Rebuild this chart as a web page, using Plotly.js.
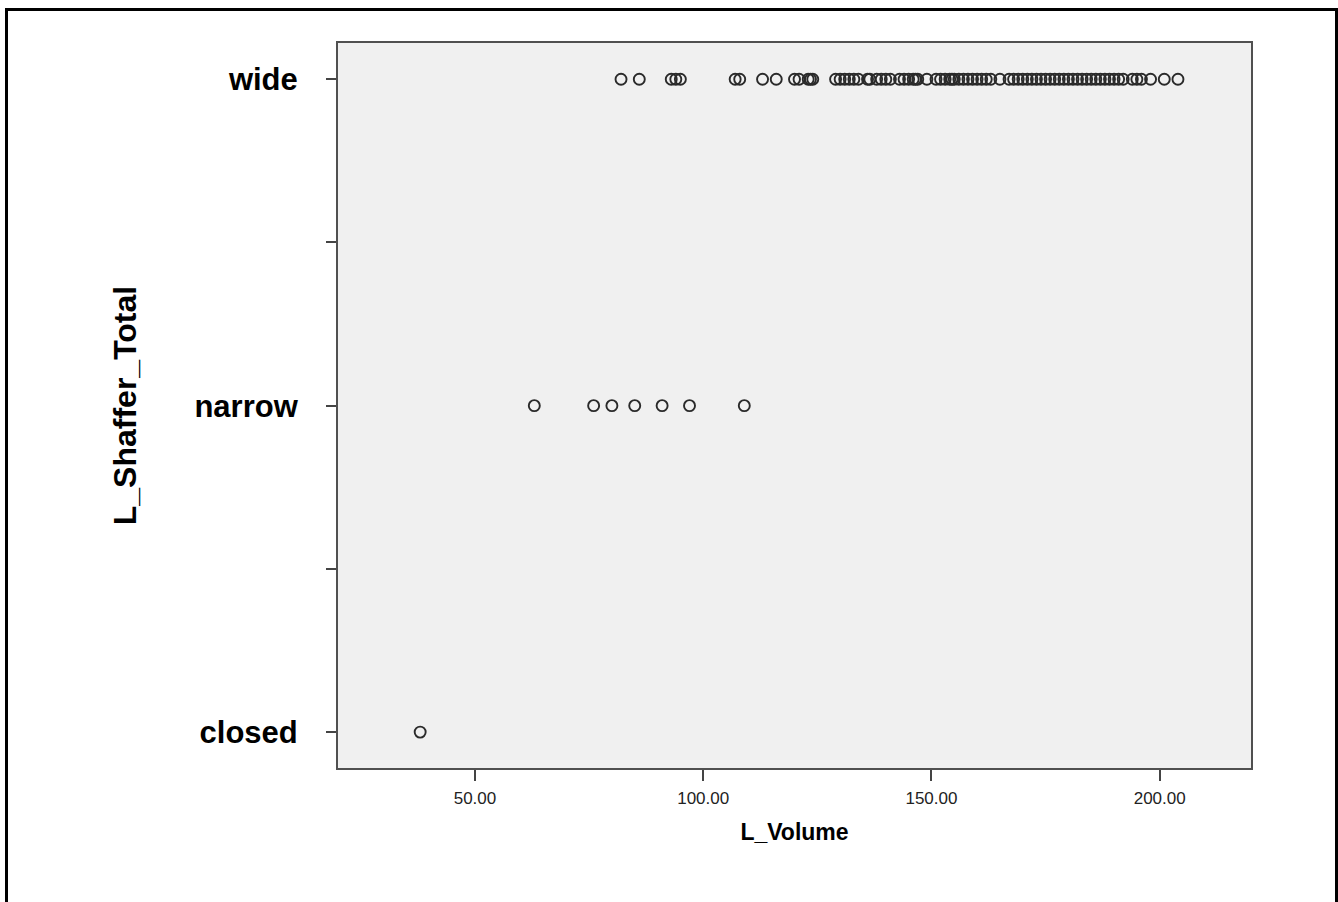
<!DOCTYPE html>
<html>
<head>
<meta charset="utf-8">
<script src="https://cdn.plot.ly/plotly-3.0.1.min.js"></script>
<style>
  html, body { margin: 0; padding: 0; background: #fff; }
  #wrap { position: relative; width: 1338px; height: 902px; overflow: hidden; }
  #chart { position: absolute; left: 0; top: 0; width: 1338px; height: 902px; }
  #frame { position: absolute; left: 5px; top: 8px; width: 1333px; height: 1000px;
           border: 3px solid #000; box-sizing: border-box; pointer-events: none; }
</style>
</head>
<body>
<div id="wrap">
  <div id="chart"></div>
  <div id="frame"></div>
</div>
<script>
// Category codes on the y axis
const categories = ["closed", "narrow", "wide"];
const categoryCodes = [0, 1, 2];

// L_Volume values per category
const closedVolumes = [38];
const narrowVolumes = [63, 76, 80, 85, 91, 97, 109];
const wideVolumes = [82, 86, 93, 94, 95, 107, 108, 113, 116, 120, 121, 123, 123.5, 124,
  129, 130, 131, 132, 133, 134, 136, 136.5, 138, 139, 140, 141, 143, 144, 145, 146, 146.5,
  147, 149, 151, 152, 153, 154, 154.5, 155, 156, 157, 158, 159, 160, 161, 162, 163, 165,
  167, 168, 169, 170, 171, 172, 173, 174, 175, 176, 177, 178, 179, 180, 181, 182, 183,
  184, 185, 186, 187, 188, 189, 190, 191, 192, 194, 195, 196, 198, 201, 204];

// Tick labels
const yTickVals = [0, 0.5, 1, 1.5, 2];
const yTickText = ["closed", "", "narrow", "", "wide"];
const xTickVals = [50, 100, 150, 200];
const xTickText = ["50.00", "100.00", "150.00", "200.00"];

const groups = [closedVolumes, narrowVolumes, wideVolumes];
const xs = [], ys = [];
groups.forEach((g, i) => g.forEach(v => { xs.push(v); ys.push(categoryCodes[i]); }));

const trace = {
  type: "scatter",
  mode: "markers",
  x: xs,
  y: ys,
  marker: { symbol: "circle-open", size: 11, color: "#2a2a2a", line: { width: 1.9, color: "#2a2a2a" } },
  hoverinfo: "x+y",
  showlegend: false
};

const layout = {
  width: 1338,
  height: 902,
  margin: { l: 338, r: 87, t: 43, b: 134 },
  paper_bgcolor: "rgba(0,0,0,0)",
  plot_bgcolor: "#f0f0f0",
  font: { family: "Liberation Sans, Arial, sans-serif", color: "#000" },
  xaxis: {
    range: [20, 220],
    tickvals: xTickVals,
    ticktext: xTickText,
    ticks: "outside",
    ticklen: 11,
    tickwidth: 2,
    tickcolor: "#444",
    ticklabelstandoff: 3,
    tickfont: { size: 17, family: "Liberation Sans, Arial, sans-serif", color: "#222" },
    showgrid: false,
    zeroline: false,
    showline: true,
    linecolor: "#505050",
    linewidth: 2,
    mirror: true,
    title: { text: "<b>L_Volume</b>", font: { size: 23, family: "Liberation Sans, Arial, sans-serif", color: "#000" }, standoff: 16 }
  },
  yaxis: {
    range: [-0.11, 2.111],
    tickvals: yTickVals,
    ticktext: yTickText,
    ticks: "outside",
    ticklen: 10,
    tickwidth: 2,
    tickcolor: "#444",
    ticklabelstandoff: 22,
    tickfont: { size: 31, family: "Liberation Sans, Arial, sans-serif", color: "#000", weight: "bold" },
    showgrid: false,
    zeroline: false,
    showline: true,
    linecolor: "#505050",
    linewidth: 2,
    mirror: true,
    title: { text: "<b>L_Shaffer_Total</b>", font: { size: 32, family: "Liberation Sans, Arial, sans-serif", color: "#000" }, standoff: 48 }
  }
};

Plotly.newPlot("chart", [trace], layout, { displayModeBar: false, staticPlot: true });
</script>
</body>
</html>
